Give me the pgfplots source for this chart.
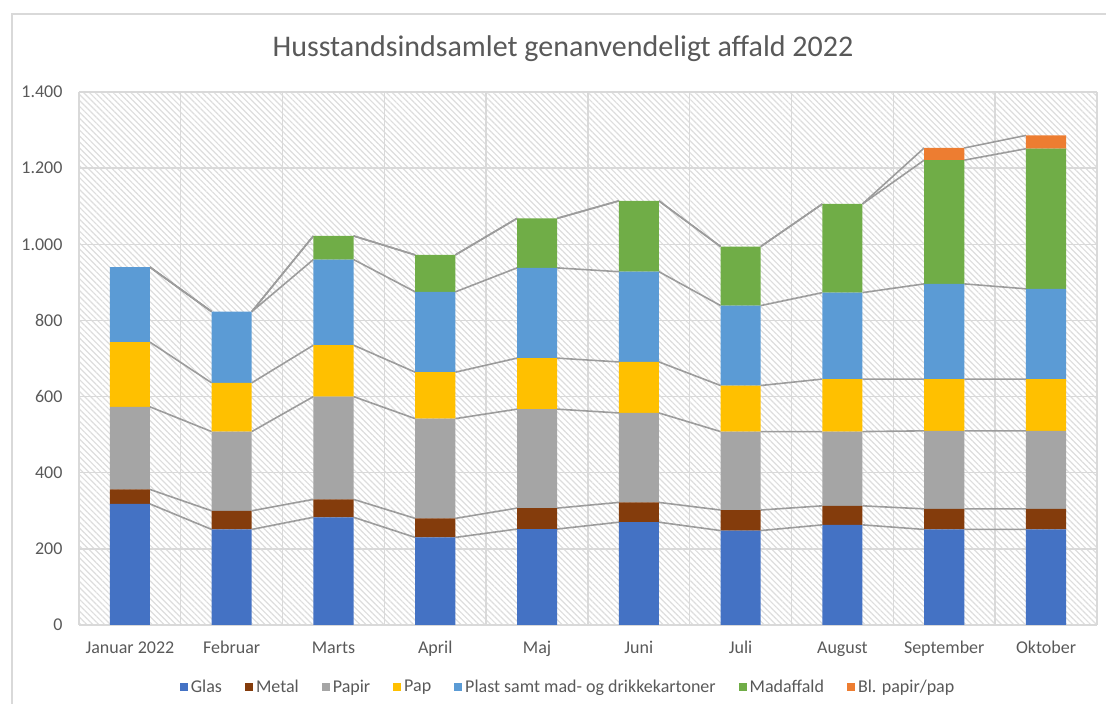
\documentclass[border=0pt]{standalone}
\usepackage{fontspec}
\setmainfont{Carlito}
\usepackage{pgfplots}
\usepackage{pgfplotstable}
\pgfplotsset{compat=1.18}
\usetikzlibrary{patterns.meta}
\definecolor{cGlas}{HTML}{4472C4}
\definecolor{cMetal}{HTML}{843C0C}
\definecolor{cPapir}{HTML}{A5A5A5}
\definecolor{cPap}{HTML}{FFC000}
\definecolor{cPlast}{HTML}{5B9BD5}
\definecolor{cMad}{HTML}{70AD47}
\definecolor{cBl}{HTML}{ED7D31}
\definecolor{txt}{HTML}{595959}
\definecolor{gridc}{HTML}{D9D9D9}
\definecolor{hatchc}{HTML}{DDDDDD}
\definecolor{serl}{HTML}{9C9C9C}

\pgfplotstableread{
x Glas Metal Papir Pap Plast Mad Bl
0 318 38 217 170 197 0 0
1 251 49 208 128 187 0 0
2 283 47 270 135 225 62 0
3 230 50 262 122 211 97 0
4 252 55 260 134 237 130 0
5 270 52 235 134 237 186 0
6 248 54 206 121 210 155 0
7 263 50 195 138 227 233 0
8 251 54 205 136 250 325 32
9 251 54 205 136 237 368 35
}\data

\begin{document}
\begin{tikzpicture}
\pgfplotsset{
  base/.style={
    scale only axis, width=1018bp, height=533bp,
    at={(79bp,79bp)}, anchor=south west,
    xmin=-0.5, xmax=9.5, ymin=0, ymax=1400,
    major tick length=0pt, minor tick length=0pt,
    axis line style={draw=none},
  }
}
% background, grid and series lines
\begin{axis}[base,
  axis background/.style={pattern={Lines[angle=-45,distance=4.2bp,line width=1.2bp]}, pattern color=hatchc},
  xtick={-0.5,0.5,...,9.5}, xticklabels={},
  ytick={0,200,...,1400}, yticklabels={},
  xmajorgrids, ymajorgrids,
  grid style={gridc, line width=1.4bp},
  unbounded coords=jump]
\pgfplotsset{sl/.style={serl, line width=1.6bp, forget plot}}
% Glas
\addplot[sl] coordinates {(0.197,318)(0.803,251)(1,nan)(1.197,251)(1.803,283)(2,nan)(2.197,283)(2.803,230)(3,nan)(3.197,230)(3.803,252)(4,nan)(4.197,252)(4.803,270)(5,nan)(5.197,270)(5.803,248)(6,nan)(6.197,248)(6.803,263)(7,nan)(7.197,263)(7.803,251)(8,nan)(8.197,251)(8.803,251)};
% Metal
\addplot[sl] coordinates {(0.197,356)(0.803,300)(1,nan)(1.197,300)(1.803,330)(2,nan)(2.197,330)(2.803,280)(3,nan)(3.197,280)(3.803,307)(4,nan)(4.197,307)(4.803,322)(5,nan)(5.197,322)(5.803,302)(6,nan)(6.197,302)(6.803,313)(7,nan)(7.197,313)(7.803,305)(8,nan)(8.197,305)(8.803,305)};
% Papir
\addplot[sl] coordinates {(0.197,573)(0.803,508)(1,nan)(1.197,508)(1.803,600)(2,nan)(2.197,600)(2.803,542)(3,nan)(3.197,542)(3.803,567)(4,nan)(4.197,567)(4.803,557)(5,nan)(5.197,557)(5.803,508)(6,nan)(6.197,508)(6.803,508)(7,nan)(7.197,508)(7.803,510)(8,nan)(8.197,510)(8.803,510)};
% Pap
\addplot[sl] coordinates {(0.197,743)(0.803,636)(1,nan)(1.197,636)(1.803,735)(2,nan)(2.197,735)(2.803,664)(3,nan)(3.197,664)(3.803,701)(4,nan)(4.197,701)(4.803,691)(5,nan)(5.197,691)(5.803,629)(6,nan)(6.197,629)(6.803,646)(7,nan)(7.197,646)(7.803,646)(8,nan)(8.197,646)(8.803,646)};
% Plast
\addplot[sl] coordinates {(0.197,940)(0.803,823)(1,nan)(1.197,823)(1.803,960)(2,nan)(2.197,960)(2.803,875)(3,nan)(3.197,875)(3.803,938)(4,nan)(4.197,938)(4.803,928)(5,nan)(5.197,928)(5.803,839)(6,nan)(6.197,839)(6.803,873)(7,nan)(7.197,873)(7.803,896)(8,nan)(8.197,896)(8.803,883)};
% Madaffald
\addplot[sl] coordinates {(0.197,940)(0.803,823)(1,nan)(1.197,823)(1.803,1022)(2,nan)(2.197,1022)(2.803,972)(3,nan)(3.197,972)(3.803,1068)(4,nan)(4.197,1068)(4.803,1114)(5,nan)(5.197,1114)(5.803,994)(6,nan)(6.197,994)(6.803,1106)(7,nan)(7.197,1106)(7.803,1221)(8,nan)(8.197,1221)(8.803,1251)};
% Bl. papir/pap
\addplot[sl] coordinates {(0.197,940)(0.803,823)(1,nan)(1.197,823)(1.803,1022)(2,nan)(2.197,1022)(2.803,972)(3,nan)(3.197,972)(3.803,1068)(4,nan)(4.197,1068)(4.803,1114)(5,nan)(5.197,1114)(5.803,994)(6,nan)(6.197,994)(6.803,1106)(7,nan)(7.197,1106)(7.803,1253)(8,nan)(8.197,1253)(8.803,1286)};
\end{axis}
% bars
\begin{axis}[base, ybar stacked, bar width=0.394,
  xtick={0,...,9},
  xticklabels={Januar 2022, Februar, Marts, April, Maj, Juni, Juli, August, September, Oktober},
  ytick={0,200,...,1400},
  /pgf/number format/1000 sep={.},
  /pgf/number format/assume math mode=true,
  ticklabel style={font=\fontsize{18bp}{21bp}\selectfont, text=txt},
  yticklabel style={xshift=-13bp},
  xticklabel style={yshift=-12bp, text height=13bp, text depth=4bp},
  legend columns=7,
  legend image code/.code={\fill[#1] (0bp,-4bp) rectangle (8bp,4bp);},
  legend style={draw=none, fill=none, at={(0.481,-0.116)}, anchor=center,
    font=\fontsize{18bp}{21bp}\selectfont, text=txt,
    nodes={inner xsep=3bp},
    /tikz/every even column/.append style={column sep=20bp}},
]
\addplot[fill=cGlas, draw=none] table[x=x, y=Glas] {\data};
\addplot[fill=cMetal, draw=none] table[x=x, y=Metal] {\data};
\addplot[fill=cPapir, draw=none] table[x=x, y=Papir] {\data};
\addplot[fill=cPap, draw=none] table[x=x, y=Pap] {\data};
\addplot[fill=cPlast, draw=none] table[x=x, y=Plast] {\data};
\addplot[fill=cMad, draw=none] table[x=x, y=Mad] {\data};
\addplot[fill=cBl, draw=none] table[x=x, y=Bl] {\data};
\legend{Glas, Metal, Papir, Pap, Plast samt mad- og drikkekartoner, Madaffald, Bl. papir/pap}
\end{axis}
\draw[gridc, line width=1.5bp] (12bp,0bp) -- (12bp,690bp) -- (1106bp,690bp);
\node[font=\fontsize{30bp}{36bp}\selectfont, text=txt] at (563bp,655bp) {Husstandsindsamlet genanvendeligt affald 2022};
\pgfresetboundingbox
\path[use as bounding box] (0bp,0bp) rectangle (1106bp,704bp);
\end{tikzpicture}
\end{document}
